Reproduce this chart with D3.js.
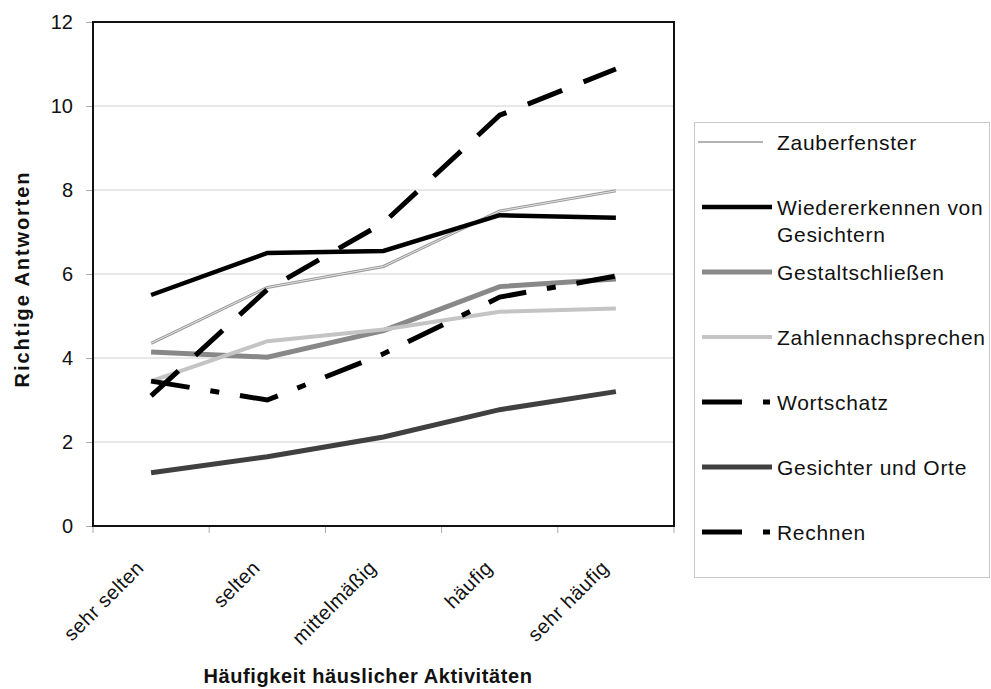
<!DOCTYPE html>
<html>
<head>
<meta charset="utf-8">
<script src="https://cdn.jsdelivr.net/npm/d3@7"></script>
<style>
  body { margin: 0; background: #fff; }
  svg { display: block; font-family: "Liberation Sans", Arial, sans-serif; }
</style>
</head>
<body>
<div id="chart"></div>
<script>
// categories on the x axis
var categories = ["sehr selten", "selten", "mittelmäßig", "häufig", "sehr häufig"];
var yTicks = [0, 2, 4, 6, 8, 10, 12];

// values
var zauberfenster   = [4.35, 5.68, 6.18, 7.5, 7.98];
var wiedererkennen  = [5.5, 6.5, 6.55, 7.4, 7.34];
var gestaltschl     = [4.14, 4.02, 4.65, 5.7, 5.88];
var zahlennachspr   = [3.45, 4.4, 4.68, 5.1, 5.18];
var wortschatz      = [3.1, 5.63, 7.22, 9.78, 10.88];
var gesichterOrte   = [1.27, 1.65, 2.12, 2.77, 3.2];
var rechnen         = [3.45, 3.0, 4.1, 5.45, 5.95];

var series = [
  {name: "Zauberfenster", values: zauberfenster, color: "#9a9a9a", width: 3, inner: true},
  {name: "Wiedererkennen von|Gesichtern", values: wiedererkennen, color: "#000", width: 4.5},
  {name: "Gestaltschließen", values: gestaltschl, color: "#888", width: 5},
  {name: "Zahlennachsprechen", values: zahlennachspr, color: "#c4c4c4", width: 4},
  {name: "Wortschatz", values: wortschatz, color: "#000", width: 5, dash: "37,23"},
  {name: "Gesichter und Orte", values: gesichterOrte, color: "#404040", width: 5},
  {name: "Rechnen", values: rechnen, color: "#000", width: 5, dash: "39,21,9,21"}
];

var W = 991, H = 689;
var pLeft = 93, pRight = 674, pTop = 22, pBottom = 526;

var svg = d3.select("#chart").append("svg")
    .attr("width", W)
    .attr("height", H);

var x = d3.scaleBand().domain(categories).range([pLeft, pRight]).padding(0);
var y = d3.scaleLinear().domain([0, 12]).range([pBottom, pTop]);
var cx = function(i){ return x(categories[i]) + x.bandwidth() / 2; };

// gridlines
svg.append("g")
    .selectAll("line")
    .data(yTicks.filter(function(d){ return d > 0 && d < 12; }))
    .enter().append("line")
    .attr("x1", pLeft).attr("x2", pRight)
    .attr("y1", function(d){ return y(d); })
    .attr("y2", function(d){ return y(d); })
    .attr("stroke", "#d0d0d0")
    .attr("stroke-width", 1);

// y axis
var yAxis = d3.axisLeft(y).tickValues(yTicks).tickSize(7).tickPadding(13);
var gy = svg.append("g")
    .attr("transform", "translate(" + pLeft + ",0)")
    .call(yAxis);
gy.select(".domain").remove();
gy.selectAll(".tick line").attr("stroke", "#aaa");
gy.selectAll(".tick text")
    .attr("font-size", 20)
    .attr("font-family", "Liberation Sans, Arial, sans-serif")
    .attr("fill", "#111");

// x ticks at the band edges
var edges = categories.map(function(c){ return x(c); }).concat([pRight]);
svg.append("g")
    .selectAll("line")
    .data(edges)
    .enter().append("line")
    .attr("x1", function(d){ return d; })
    .attr("x2", function(d){ return d; })
    .attr("y1", pBottom).attr("y2", pBottom + 7)
    .attr("stroke", "#aaa");

// x labels, rotated
svg.append("g")
    .selectAll("text")
    .data(categories)
    .enter().append("text")
    .attr("transform", function(d, i){
        return "translate(" + (cx(i) - 6) + "," + (pBottom + 43) + ") rotate(-45)";
    })
    .attr("text-anchor", "end")
    .attr("font-size", 20)
    .attr("letter-spacing", 0.5)
    .attr("fill", "#111")
    .text(function(d){ return d; });

// plot frame
svg.append("rect")
    .attr("x", pLeft).attr("y", pTop)
    .attr("width", pRight - pLeft).attr("height", pBottom - pTop)
    .attr("fill", "none")
    .attr("stroke", "#111")
    .attr("stroke-width", 2);

var line = d3.line()
    .x(function(d, i){ return cx(i); })
    .y(function(d){ return y(d); });

var gl = svg.append("g");
series.forEach(function(s){
    var p = gl.append("path")
        .datum(s.values)
        .attr("d", line)
        .attr("fill", "none")
        .attr("stroke", s.color)
        .attr("stroke-width", s.width)
        .attr("stroke-linejoin", "miter");
    if (s.dash) p.attr("stroke-dasharray", s.dash);
    if (s.inner) {
        gl.append("path")
            .datum(s.values)
            .attr("d", line)
            .attr("fill", "none")
            .attr("stroke", "#e6e6e6")
            .attr("stroke-width", 1);
    }
});

// axis titles
svg.append("text")
    .attr("transform", "translate(29,279) rotate(-90)")
    .attr("text-anchor", "middle")
    .attr("font-size", 20)
    .attr("font-weight", "bold")
    .attr("letter-spacing", 1.9)
    .attr("fill", "#111")
    .text("Richtige Antworten");

svg.append("text")
    .attr("x", 368).attr("y", 683)
    .attr("text-anchor", "middle")
    .attr("font-size", 20)
    .attr("font-weight", "bold")
    .attr("letter-spacing", 0.6)
    .attr("fill", "#111")
    .text("Häufigkeit häuslicher Aktivitäten");

// legend
var lg = svg.append("g");
lg.append("rect")
    .attr("x", 694.5).attr("y", 122.5)
    .attr("width", 295).attr("height", 455)
    .attr("fill", "#fff")
    .attr("stroke", "#c8c8c8");

series.forEach(function(s, i){
    var ly = 142 + i * 65;
    var x1 = s.inner ? 698 : 702, x2 = s.inner ? 763 : 772;
    var l = lg.append("line")
        .attr("x1", x1).attr("x2", x2)
        .attr("y1", ly).attr("y2", ly)
        .attr("stroke", s.color)
        .attr("stroke-width", s.inner ? 1.5 : s.width);
    if (s.dash) l.attr("stroke-dasharray", "40,21,7,100");
    var t = lg.append("text")
        .attr("x", 777).attr("y", ly + 7.5)
        .attr("font-size", 21)
        .attr("letter-spacing", 0.7)
        .attr("fill", "#111");
    s.name.split("|").forEach(function(part, k){
        t.append("tspan").attr("x", 777).attr("dy", k ? 27 : 0).text(part);
    });
});
</script>
</body>
</html>
